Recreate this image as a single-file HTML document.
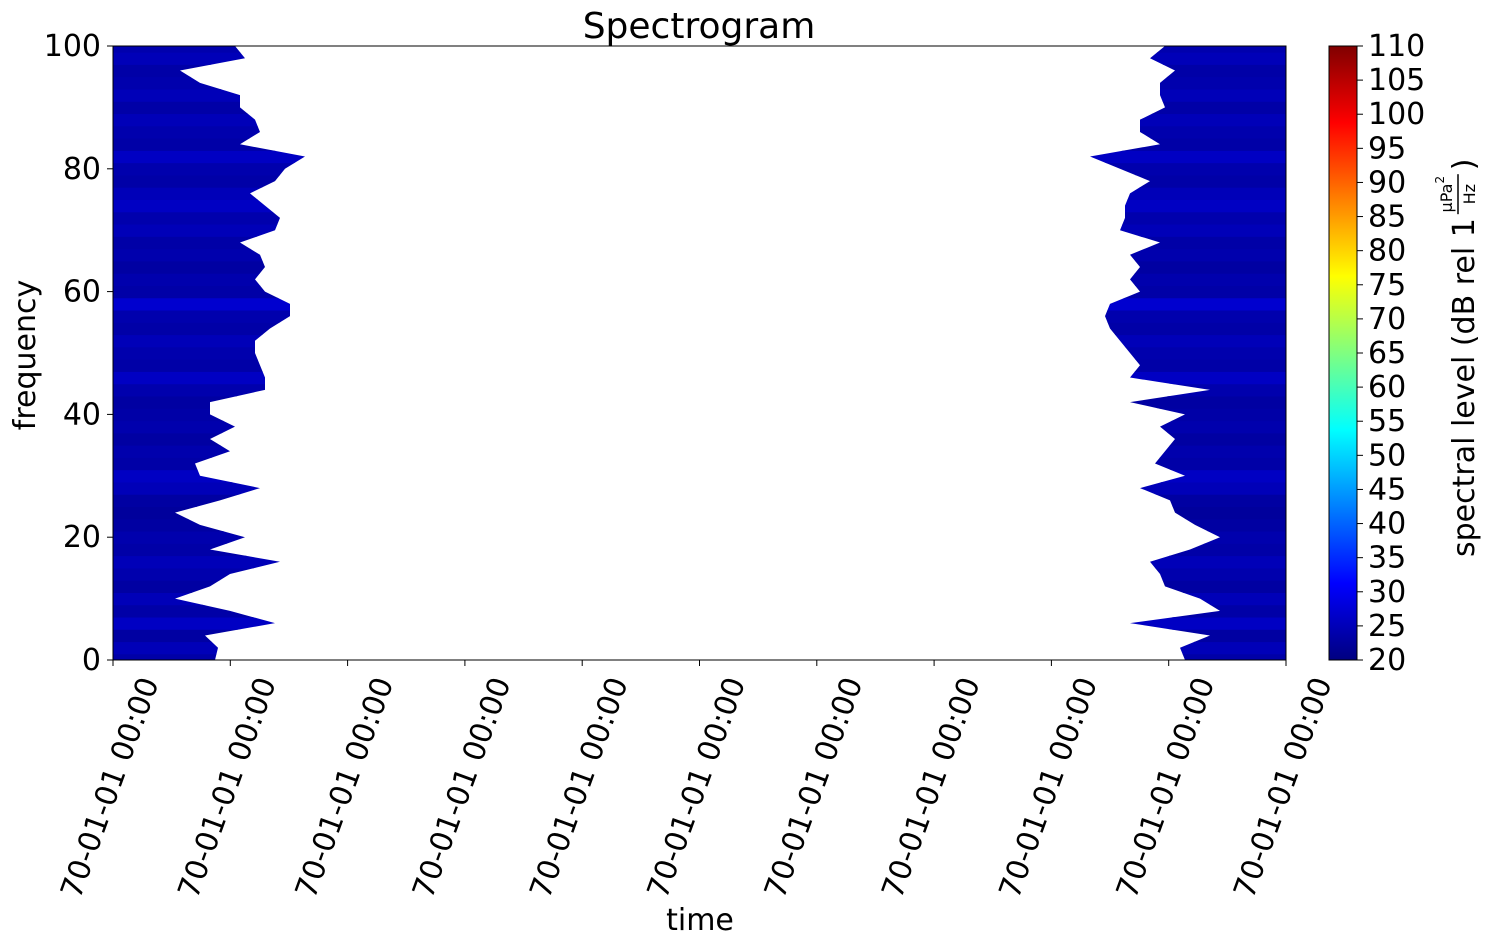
<!DOCTYPE html>
<html><head><meta charset="utf-8"><style>
body{margin:0;background:#fff;}
svg text{font-family:"DejaVu Sans","Liberation Sans",sans-serif;fill:#000;}
</style></head><body>
<svg id="c" width="1498" height="946" xmlns="http://www.w3.org/2000/svg">
<defs>
<linearGradient id="jetg" x1="0" y1="1" x2="0" y2="0"></linearGradient>
<clipPath id="plotclip"><rect x="113" y="46" width="1173" height="614"/></clipPath>
</defs>
<text x="699" y="38" font-size="36" text-anchor="middle">Spectrogram</text>
<g id="plot" clip-path="url(#plotclip)"></g>
<rect x="113" y="46" width="1173" height="614" fill="none" stroke="#000" stroke-width="1"/>
<g id="axes"></g>
<text x="700" y="930" font-size="30" text-anchor="middle">time</text>
<text transform="translate(35,355) rotate(-90)" font-size="30" text-anchor="middle">frequency</text>
<rect x="1329" y="46" width="28" height="614" fill="url(#jetg)"/>
<rect x="1329" y="46" width="28" height="614" fill="none" stroke="#000" stroke-width="1"/>
<g transform="translate(1474,557) rotate(-90)">
<text id="cbmain" x="0" y="0" font-size="30">spectral level (dB rel 1</text>
<g id="cbfrac">
<text x="0" y="-22" font-size="16" text-anchor="middle">μPa<tspan dy="-8" font-size="12">2</tspan></text>
<line x1="-20" y1="-16" x2="20" y2="-16" stroke="#000" stroke-width="1.5"/>
<text x="0" y="1" font-size="16" text-anchor="middle">Hz</text>
</g>
<text id="cbclose" x="0" y="0" font-size="30">)</text>
</g>
</svg>
<script>
const freqs=[0,2,4,6,8,10,12,14,16,18,20,22,24,26,28,30,32,34,36,38,40,42,44,46,48,50,52,54,56,58,60,62,64,66,68,70,72,74,76,78,80,82,84,86,88,90,92,94,96,98,100];
const leftEdge=[215,218,205,275,230,175,210,230,280,210,245,200,175,220,260,200,195,230,210,235,210,210,265,265,260,255,255,270,290,290,265,255,265,260,240,275,280,265,250,275,285,305,240,260,255,240,240,200,180,245,235];
const rightEdge=[1185,1180,1210,1130,1220,1200,1165,1160,1150,1190,1220,1195,1175,1170,1140,1185,1155,1165,1175,1160,1185,1130,1210,1130,1140,1130,1120,1110,1105,1110,1140,1130,1140,1130,1160,1120,1125,1125,1130,1150,1120,1090,1160,1140,1140,1165,1160,1160,1175,1150,1165];
const levels=[23.5,25,23,26,23.5,25,23,24,25,23.5,24,23,22.5,23,25,26,23.5,24,23,24,23.5,23,24,26,23.5,24,25,23.5,24,27,23.5,24,23,24,23.5,25,24,26,25,23.5,24,26,23.5,24,25,23.5,25,24,23.5,25,24];
const yTicks=[0,20,40,60,80,100];
const cTicks=[20,25,30,35,40,45,50,55,60,65,70,75,80,85,90,95,100,105,110];
const xTickLabels=["70-01-01 00:00","70-01-01 00:00","70-01-01 00:00","70-01-01 00:00","70-01-01 00:00","70-01-01 00:00","70-01-01 00:00","70-01-01 00:00","70-01-01 00:00","70-01-01 00:00","70-01-01 00:00"];
const NS="http://www.w3.org/2000/svg";
const X0=113,X1=1286,Y0=660,Y1=46;
const fy=f=>Y0-(f/100)*(Y0-Y1);
const cy=v=>Y0-((v-20)/90)*(Y0-Y1);
function jet(t){
 const cl=v=>Math.max(0,Math.min(1,v));
 const r=cl(1.5-Math.abs(4*t-3)),g=cl(1.5-Math.abs(4*t-2)),b=cl(1.5-Math.abs(4*t-1));
 return `rgb(${Math.round(r*255)},${Math.round(g*255)},${Math.round(b*255)})`;
}
const grad=document.getElementById('jetg');
for(let i=0;i<=40;i++){const s=document.createElementNS(NS,'stop');s.setAttribute('offset',i/40);s.setAttribute('stop-color',jet(i/40));grad.appendChild(s);}
const plot=document.getElementById('plot');
const band=document.createElementNS(NS,'clipPath');band.setAttribute('id','shape');
let lp=`M${X0},${fy(0)} `;freqs.forEach((f,i)=>{lp+=`L${leftEdge[i]},${fy(f)} `;});lp+=`L${X0},${fy(100)} Z`;
let rp=`M${X1},${fy(0)} `;freqs.forEach((f,i)=>{rp+=`L${rightEdge[i]},${fy(f)} `;});rp+=`L${X1},${fy(100)} Z`;
const p1=document.createElementNS(NS,'path');p1.setAttribute('d',lp);band.appendChild(p1);
const p2=document.createElementNS(NS,'path');p2.setAttribute('d',rp);band.appendChild(p2);
document.querySelector('defs').appendChild(band);
const g=document.createElementNS(NS,'g');g.setAttribute('clip-path','url(#shape)');


plot.appendChild(g);
freqs.forEach((f,i)=>{
 const r=document.createElementNS(NS,'rect');
 const yTop=fy(Math.min(100,f+1)),yBot=fy(Math.max(0,f-1));
 r.setAttribute('x',X0);r.setAttribute('y',yTop);r.setAttribute('width',X1-X0);r.setAttribute('height',yBot-yTop+0.5);
 r.setAttribute('fill',jet((levels[i]-20)/90));
 
 
 g.appendChild(r);
});
const axes=document.getElementById('axes');
yTicks.forEach(v=>{
 const y=fy(v);
 const l=document.createElementNS(NS,'line');l.setAttribute('x1',X0-6);l.setAttribute('x2',X0);l.setAttribute('y1',y);l.setAttribute('y2',y);l.setAttribute('stroke','#000');
 
 
 axes.appendChild(l);
 const t=document.createElementNS(NS,'text');t.setAttribute('x',X0-12);t.setAttribute('y',y+10);t.setAttribute('font-size','30');t.setAttribute('text-anchor','end');t.textContent=v;
 
 
 axes.appendChild(t);
});
xTickLabels.forEach((lab,i)=>{
 const x=X0+i*(X1-X0)/(xTickLabels.length-1);
 const l=document.createElementNS(NS,'line');l.setAttribute('x1',x);l.setAttribute('x2',x);l.setAttribute('y1',Y0);l.setAttribute('y2',Y0+6);l.setAttribute('stroke','#000');
 
 
 axes.appendChild(l);
 const t=document.createElementNS(NS,'text');t.setAttribute('transform',`translate(${x+46},${Y0+22}) rotate(-70)`);t.setAttribute('font-size','30');t.setAttribute('text-anchor','end');t.textContent=lab;
 
 
 axes.appendChild(t);
});
cTicks.forEach(v=>{
 const y=cy(v);
 const l=document.createElementNS(NS,'line');l.setAttribute('x1',1357);l.setAttribute('x2',1363);l.setAttribute('y1',y);l.setAttribute('y2',y);l.setAttribute('stroke','#000');
 
 
 axes.appendChild(l);
 const t=document.createElementNS(NS,'text');t.setAttribute('x',1368);t.setAttribute('y',y+10);t.setAttribute('font-size','30');t.textContent=v;
 
 
 axes.appendChild(t);
});
const mainLen=document.getElementById('cbmain').getComputedTextLength();
document.getElementById('cbfrac').setAttribute('transform',`translate(${mainLen+24},0)`);
document.getElementById('cbclose').setAttribute('x',mainLen+48);
</script>
</body></html>
